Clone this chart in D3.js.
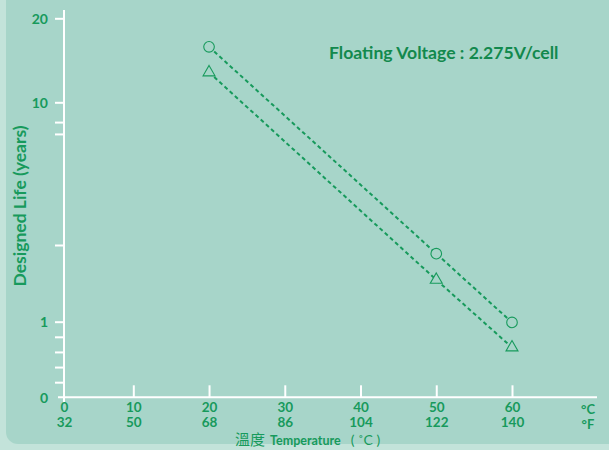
<!DOCTYPE html>
<html>
<head>
<meta charset="utf-8">
<script src="https://cdn.jsdelivr.net/npm/d3@7"></script>
<style>
  html, body { margin: 0; padding: 0; background: #c3e3da; }
  svg { display: block; }
</style>
</head>
<body>
<svg id="chart" width="609" height="450"></svg>
<script>
// ---- data ----
const tempC = [20, 50, 60];
const circleLife = [15.8, 1.85, 0.99];
const triangleLife = [12.8, 1.46, 0.66];
const xTicksC = [0, 10, 20, 30, 40, 50, 60];
const xTicksF = [32, 50, 68, 86, 104, 122, 140];
const yLabelTicks = [0, 1, 10, 20];
const yTickMarks = [0.2, 0.4, 0.6, 0.8, 1, 2, 7, 8, 10, 20];
const titleText = "Floating Voltage : 2.275V/cell";
const yTitle = "Designed Life (years)";

// ---- style ----
const bg = "#a7d5c9";
const green = "#179a5c";
const darkGreen = "#12894d";
const font = "Lato, 'Open Sans', sans-serif";

const svg = d3.select("#chart");

// panel
svg.append("rect").attr("x", 6).attr("y", -30).attr("width", 640).attr("height", 474)
  .attr("rx", 12).attr("fill", bg);

// scales
const x = d3.scaleLinear().domain([0, 10, 60]).range([64, 133.3, 512]);
const yLin = d3.scaleLinear().domain([0, 1]).range([397.3, 321.7]);
const yLog = d3.scaleLog().domain([1, 2, 10, 20]).range([321.7, 245, 102.3, 18.3]);
function y(v) { return v < 1 ? yLin(v) : yLog(v); }
y.range = () => [397.3, 18.3];
y.domain = () => [0, 20];
y.copy = () => y;

// axis lines
svg.append("line").attr("x1", 64).attr("x2", 64).attr("y1", 10).attr("y2", 403)
  .attr("stroke", "#fff").attr("stroke-width", 2);
svg.append("line").attr("x1", 58).attr("x2", 597).attr("y1", y(0)).attr("y2", y(0))
  .attr("stroke", "#fff").attr("stroke-width", 2);

// y tick marks
const yTicksG = svg.append("g").attr("transform", "translate(64,0)")
  .call(d3.axisLeft(y).tickValues(yTickMarks).tickSize(9).tickSizeOuter(0).tickFormat(""));
yTicksG.select(".domain").remove();
yTicksG.selectAll(".tick line").attr("stroke", "#fff").attr("stroke-width", 2);

// y labels
const yLabG = svg.append("g").attr("transform", "translate(64,0)")
  .call(d3.axisLeft(y).tickValues(yLabelTicks).tickSize(0).tickPadding(16).tickFormat(d3.format("d")));
yLabG.select(".domain").remove();
yLabG.selectAll(".tick text").attr("fill", green).attr("font-family", font)
  .attr("font-size", 14).attr("font-weight", "bold").attr("dy", "0.35em");

// x tick marks
const xTicksG = svg.append("g").attr("transform", `translate(0,${y(0)})`)
  .call(d3.axisBottom(x).tickValues(xTicksC.slice(1)).tickSize(-12).tickSizeOuter(0).tickFormat(""));
xTicksG.select(".domain").remove();
xTicksG.selectAll(".tick line").attr("stroke", "#fff").attr("stroke-width", 2);

// x labels (C and F)
const xLabC = svg.append("g").attr("transform", `translate(0,${y(0)})`)
  .call(d3.axisBottom(x).tickValues(xTicksC).tickSize(0).tickPadding(5).tickFormat(d3.format("d")));
xLabC.select(".domain").remove();
const xLabF = svg.append("g").attr("transform", `translate(0,${y(0)})`)
  .call(d3.axisBottom(x).tickValues(xTicksC).tickSize(0).tickPadding(20).tickFormat((d, i) => xTicksF[i]));
xLabF.select(".domain").remove();
[xLabC, xLabF].forEach(g => g.selectAll(".tick text")
  .attr("fill", green).attr("font-family", font).attr("font-size", 13.5).attr("font-weight", "bold"));

// unit labels
svg.append("text").attr("x", 588).attr("y", 414).attr("text-anchor", "middle")
  .attr("fill", green).attr("font-family", font).attr("font-size", 13).attr("font-weight", "bold").text("°C");
svg.append("text").attr("x", 588).attr("y", 429).attr("text-anchor", "middle")
  .attr("fill", green).attr("font-family", font).attr("font-size", 13).attr("font-weight", "bold").text("°F");

// x title
const xt = svg.append("text").attr("x", 235).attr("y", 445).attr("fill", green).attr("font-family", font).attr("font-weight", "bold");
xt.append("tspan").attr("font-family", "'Noto Sans CJK TC', sans-serif").attr("font-size", 15).attr("font-weight", "normal").text("溫度");
xt.append("tspan").attr("dx", 5).attr("font-size", 12.5).text("Temperature");
xt.append("tspan").attr("dx", 10).attr("font-size", 14).attr("font-weight", "normal").text("( ˚C )");

// y title
svg.append("text").attr("transform", "translate(26,206) rotate(-90)").attr("text-anchor", "middle")
  .attr("fill", green).attr("font-family", font).attr("font-size", 17.5).attr("font-weight", "bold").text(yTitle);

// chart title
svg.append("text").attr("x", 329).attr("y", 59).attr("fill", darkGreen).attr("font-family", font)
  .attr("font-size", 17.6).attr("font-weight", "bold").text(titleText);

// series lines
const line = d3.line().x((d, i) => x(tempC[i])).y(d => y(d));
[circleLife, triangleLife].forEach(series => {
  svg.append("path").attr("d", line(series)).attr("fill", "none")
    .attr("stroke", green).attr("stroke-width", 2).attr("stroke-dasharray", "4,3");
});

// markers
svg.selectAll(".mc").data(circleLife).join("circle")
  .attr("cx", (d, i) => x(tempC[i])).attr("cy", d => y(d)).attr("r", 5.3)
  .attr("fill", bg).attr("stroke", green).attr("stroke-width", 1.1);
const tri = d3.symbol().type(d3.symbolTriangle).size(62);
svg.selectAll(".mt").data(triangleLife).join("path")
  .attr("d", tri).attr("transform", (d, i) => `translate(${x(tempC[i])},${y(d)})`)
  .attr("fill", bg).attr("stroke", green).attr("stroke-width", 1.1);
</script>
</body>
</html>
